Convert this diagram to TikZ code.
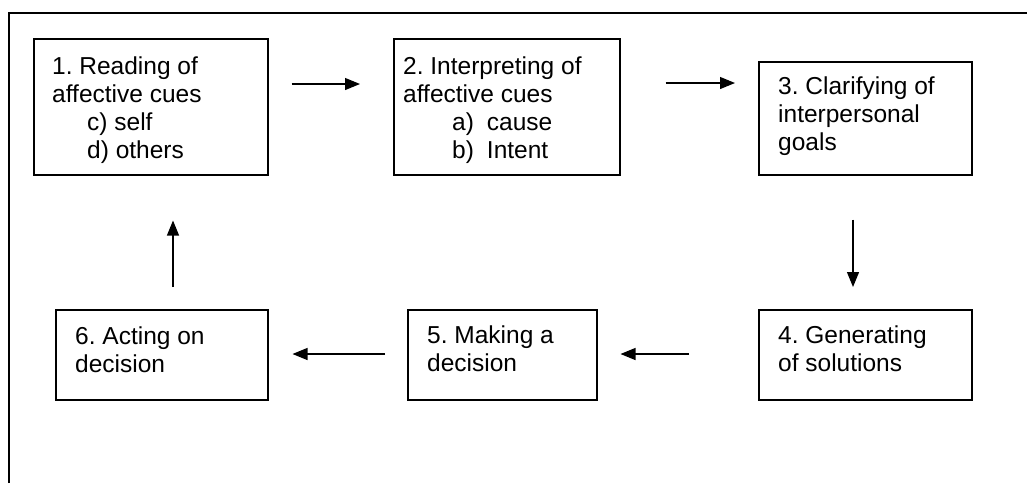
\documentclass[tikz,border=0pt]{standalone}
\usepackage{fontspec}
\setmainfont{Liberation Sans}
\frenchspacing
\usetikzlibrary{arrows.meta,calc}
\begin{document}
\begin{tikzpicture}[x=1pt,y=-1pt,
  boxstyle/.style={draw,line width=1.5pt,inner sep=0pt,anchor=north west},
  txt/.style={anchor=base west,inner sep=0pt,align=left,font=\fontsize{24.5}{28}\selectfont\frenchspacing},
  arr/.style={line width=1.2pt,-{Triangle[length=15pt,width=12pt]}}]
\useasboundingbox (0,0) rectangle (1027,483);
% outer frame
\draw[line width=2pt] (9,483) -- (9,13) -- (1027,13);
% boxes
\node[boxstyle,minimum width=234pt,minimum height=136pt] (b1) at (33,38) {};
\node[boxstyle,minimum width=226pt,minimum height=136pt] (b2) at (393,38) {};
\node[boxstyle,minimum width=213pt,minimum height=113pt] (b3) at (758,61) {};
\node[boxstyle,minimum width=213pt,minimum height=90pt] (b4) at (758,309) {};
\node[boxstyle,minimum width=189pt,minimum height=90pt] (b5) at (407,309) {};
\node[boxstyle,minimum width=212pt,minimum height=90pt] (b6) at (55,309) {};
% texts (anchored at the baseline of the last line)
\node[txt] (t1) at (52,158) {1. Reading of\\affective cues\\\hspace*{35pt}c) self\\\hspace*{35pt}d) others};
\node[txt] (t2) at (403,158) {2. Interpreting of\\affective cues\\\hspace*{49pt}a)\hspace*{13pt}cause\\\hspace*{49pt}b)\hspace*{13pt}Intent};
\node[txt] (t3) at (778,150) {3. Clarifying of\\interpersonal\\goals};
\node[txt] (t4) at (778,371) {4. Generating\\of solutions};
\node[txt] (t5) at (427,371) {5. Making a\\decision};
\node[txt] (t6) at (75,372) {6. Acting on\\decision};
% arrow end points
\coordinate (a1s) at ($(b1.north east)+(23,46)$);
\coordinate (a1e) at ($(b2.north west)+(-33,46)$);
\coordinate (a2s) at ($(b2.north east)+(45,45)$);
\coordinate (a2e) at ($(b3.north west)+(-23,22)$);
\coordinate (a3s) at ($(b3.south west)+(95,44)$);
\coordinate (a3e) at ($(b4.north west)+(95,-22)$);
\coordinate (a4s) at ($(b4.north west)+(-69,45)$);
\coordinate (a4e) at ($(b5.north east)+(23,45)$);
\coordinate (a5s) at ($(b5.north west)+(-22,45)$);
\coordinate (a5e) at ($(b6.north east)+(24,45)$);
\coordinate (a6s) at ($(b6.north west)+(118,-22)$);
\coordinate (a6e) at ($(b1.south west)+(140,45)$);
\draw[arr] (a1s) -- (a1e);
\draw[arr] (a2s) -- (a2e);
\draw[arr] (a3s) -- (a3e);
\draw[arr] (a4s) -- (a4e);
\draw[arr] (a5s) -- (a5e);
\draw[arr] (a6s) -- (a6e);
\end{tikzpicture}
\end{document}
